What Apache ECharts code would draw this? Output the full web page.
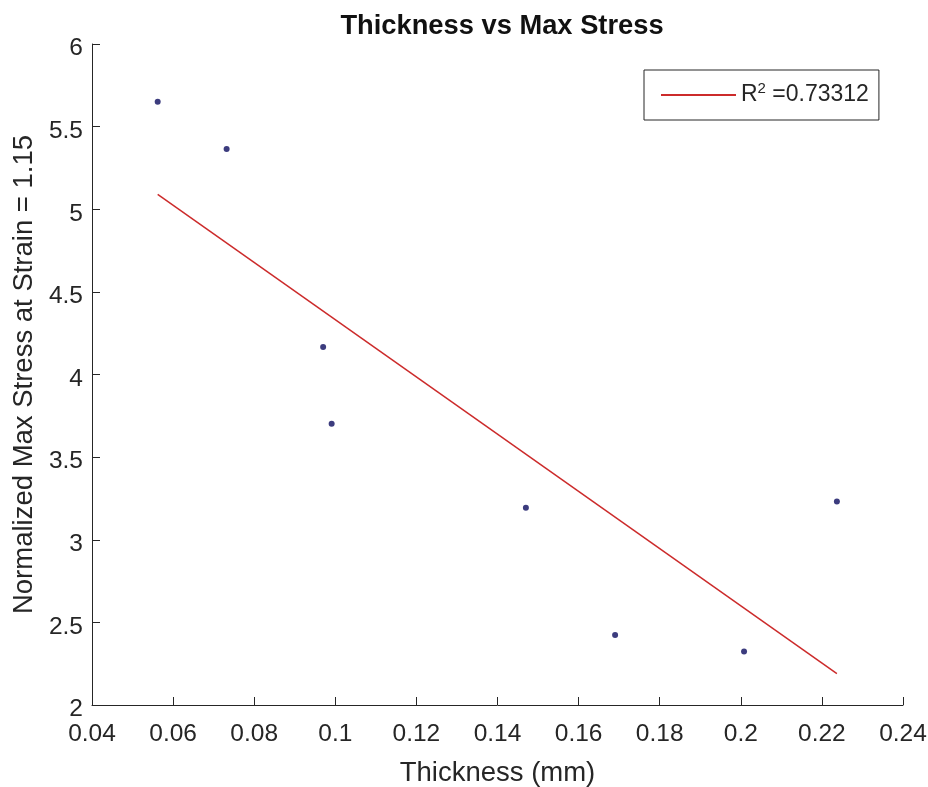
<!DOCTYPE html>
<html>
<head>
<meta charset="utf-8">
<script src="https://cdn.jsdelivr.net/npm/echarts@6/dist/echarts.min.js"></script>
<style>html,body{margin:0;padding:0;background:#fff}#c{width:928px;height:787px}</style>
</head>
<body>
<div id="c"></div>
<script>
const thickness = [0.0562, 0.0732, 0.0970, 0.0991, 0.1470, 0.1690, 0.2008, 0.2237];
const maxStress = [5.651, 5.364, 4.166, 3.702, 3.193, 2.424, 2.323, 3.231];
const fitX = [0.0562, 0.2237];
const fitY = [5.090, 2.190];
const xTicks = [0.04, 0.06, 0.08, 0.1, 0.12, 0.14, 0.16, 0.18, 0.2, 0.22, 0.24];
const yTicks = [2, 2.5, 3, 3.5, 4, 4.5, 5, 5.5, 6];
const titleText = 'Thickness vs Max Stress';
const xName = 'Thickness (mm)';
const yName = 'Normalized Max Stress at Strain = 1.15';
const fitName = 'fit';

const FONT = '"Liberation Sans", Arial, sans-serif';
const TXT = '#262626';
const chart = echarts.init(document.getElementById('c'));
chart.setOption({
  animation: false,
  backgroundColor: '#fff',
  title: {
    text: titleText, left: 497, top: 8, textAlign: 'center',
    textStyle: {fontFamily: FONT, fontSize: 27.3, fontWeight: 'bold', color: '#111'}
  },
  grid: {left: 92, right: 25, top: 44, bottom: 82, containLabel: false, outerBoundsMode: 'none'},
  legend: {
    data: [fitName], left: 644, top: 70, orient: 'vertical',
    padding: [11, 10, 10, 17], itemGap: 0,
    borderColor: '#262626', borderWidth: 1, backgroundColor: '#fff',
    icon: 'rect', itemWidth: 75, itemHeight: 2,
    formatter: () => 'R{sup|2} =0.73312',
    textStyle: {
      fontFamily: FONT, fontSize: 23, color: TXT, lineHeight: 28,
      rich: {sup: {fontFamily: FONT, fontSize: 15, color: TXT, verticalAlign: 'top', lineHeight: 28, padding: [0, 0, 14, 0]}}
    }
  },
  xAxis: {
    type: 'value', min: 0.04, max: 0.24, interval: 0.02,
    name: xName, nameLocation: 'middle', nameGap: 54,
    nameTextStyle: {fontFamily: FONT, fontSize: 27.5, color: TXT},
    axisLine: {show: true, onZero: false, lineStyle: {color: TXT, width: 1}},
    axisTick: {show: true, inside: true, length: 8, lineStyle: {color: TXT}},
    splitLine: {show: false},
    axisLabel: {fontFamily: FONT, fontSize: 24.5, color: TXT, margin: 17,
      formatter: v => { const t = xTicks.find(k => Math.abs(k - v) < 1e-9); return t === undefined ? '' : String(t); }}
  },
  yAxis: {
    type: 'value', min: 2, max: 6, interval: 0.5,
    name: yName, nameLocation: 'middle', nameGap: 50,
    nameTextStyle: {fontFamily: FONT, fontSize: 27.5, color: TXT},
    axisLine: {show: true, onZero: false, lineStyle: {color: TXT, width: 1}},
    axisTick: {show: true, inside: true, length: 8, lineStyle: {color: TXT}},
    splitLine: {show: false},
    axisLabel: {fontFamily: FONT, fontSize: 24.5, color: TXT, margin: 9, verticalAlign: 'top', lineHeight: 9,
      formatter: v => { const t = yTicks.find(k => Math.abs(k - v) < 1e-9); return t === undefined ? '' : String(t); }}
  },
  series: [
    {
      name: 'data', type: 'scatter', symbol: 'circle', symbolSize: 6,
      itemStyle: {color: '#0b0b5e'},
      data: thickness.map((x, i) => [x, maxStress[i]]), z: 3
    },
    {
      name: fitName, type: 'line', symbol: 'none', showSymbol: false,
      lineStyle: {color: '#cc2b2b', width: 1.5},
      itemStyle: {color: '#cc2b2b'},
      data: fitX.map((x, i) => [x, fitY[i]]), z: 2
    }
  ]
});
</script>
</body>
</html>
